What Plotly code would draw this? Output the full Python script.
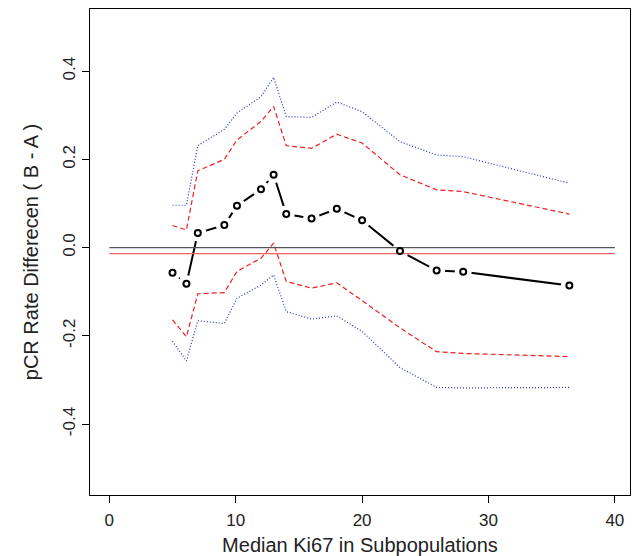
import plotly.graph_objects as go

# Data
ki67 = [5, 6.1, 7, 9.1, 10.1, 12, 13, 14, 16, 18, 20, 23, 25.9, 28, 36.4]
diff = [-0.057, -0.082, 0.033, 0.051, 0.095, 0.132, 0.165, 0.076, 0.066, 0.088,
        0.062, -0.008, -0.052, -0.055, -0.086]
upper_red = [0.050, 0.040, 0.174, 0.200, 0.244, 0.286, 0.320, 0.231, 0.225, 0.257,
             0.237, 0.165, 0.131, 0.127, 0.076]
lower_red = [-0.164, -0.202, -0.105, -0.102, -0.054, -0.024, 0.010, -0.077, -0.092,
             -0.080, -0.120, -0.182, -0.236, -0.240, -0.247]
upper_blue = [0.096, 0.096, 0.231, 0.268, 0.305, 0.342, 0.386, 0.297, 0.295, 0.330,
              0.308, 0.240, 0.210, 0.206, 0.146]
lower_blue = [-0.212, -0.257, -0.166, -0.172, -0.115, -0.085, -0.062, -0.145, -0.162,
              -0.155, -0.190, -0.272, -0.317, -0.318, -0.317]
ref_x = [0, 40]
zero_line = [0.0, 0.0]
mean_line = [-0.0136, -0.0136]

x_ticks = [0, 10, 20, 30, 40]
y_ticks = [-0.4, -0.2, 0.0, 0.2, 0.4]
y_ticktext = ["-0.4", "-0.2", "0.0", "0.2", "0.4"]

FONT = "Liberation Sans, Arial, Helvetica, sans-serif"

fig = go.Figure()
# black connecting line (type "b" style)
fig.add_trace(go.Scatter(x=ki67, y=diff, mode="lines",
                         line=dict(color="black", width=2), hoverinfo="skip"))
# white gaps around the points
fig.add_trace(go.Scatter(x=ki67, y=diff, mode="markers",
                         marker=dict(symbol="circle", size=17, color="white",
                                     line=dict(width=0)), hoverinfo="skip"))
# bounds
for ys in (upper_blue, lower_blue):
    fig.add_trace(go.Scatter(x=ki67, y=ys, mode="lines",
                             line=dict(color="#2233cc", width=1.2, dash="1px,2px")))
for ys in (upper_red, lower_red):
    fig.add_trace(go.Scatter(x=ki67, y=ys, mode="lines",
                             line=dict(color="#ee2222", width=1.2, dash="5px,3px")))
# reference lines
fig.add_trace(go.Scatter(x=ref_x, y=zero_line, mode="lines",
                         line=dict(color="#555555", width=1.4)))
fig.add_trace(go.Scatter(x=ref_x, y=mean_line, mode="lines",
                         line=dict(color="#f06060", width=1.4)))
# open circles
fig.add_trace(go.Scatter(x=ki67, y=diff, mode="markers",
                         marker=dict(symbol="circle-open", size=6, color="black",
                                     line=dict(width=2, color="black"))))

fig.update_layout(
    width=638, height=556,
    margin=dict(l=90, r=8, t=9, b=61),
    paper_bgcolor="white", plot_bgcolor="white",
    showlegend=False,
    font=dict(family=FONT, color="#222222"),
    xaxis=dict(range=[-1.53, 41.2], tickvals=x_ticks, ticks="outside", ticklen=7,
               tickcolor="black", showline=True, mirror=True, linecolor="black",
               linewidth=1, showgrid=False, zeroline=False, automargin=False,
               ticklabelstandoff=3,
               tickfont=dict(size=17, family=FONT, color="#222222"),
               title=dict(text="Median Ki67 in Subpopulations",
                          font=dict(size=20, family=FONT, color="#222222"),
                          standoff=8)),
    yaxis=dict(range=[-0.5608, 0.5408], tickvals=y_ticks, ticktext=y_ticktext,
               tickangle=-90, ticks="outside", ticklen=7,
               tickcolor="black", showline=True, mirror=True, linecolor="black",
               linewidth=1, showgrid=False, zeroline=False, automargin=False,
               tickfont=dict(size=17, family=FONT, color="#222222"),
               title=dict(text="pCR Rate Differecen ( B - A )",
                          font=dict(size=20, family=FONT, color="#222222"),
                          standoff=16)),
)

fig.write_html("out.html", config={"displayModeBar": False},
               post_script="document.body.style.margin='0';document.body.style.padding='0';")
